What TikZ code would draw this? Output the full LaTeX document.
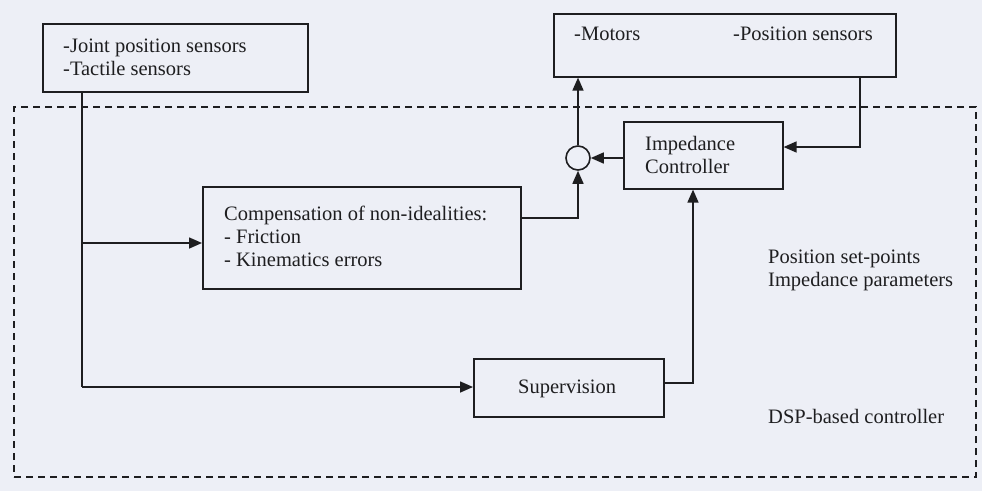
\documentclass[tikz,border=0pt]{standalone}
\usepackage{fontspec}
\setmainfont{Liberation Serif}
\usetikzlibrary{arrows.meta}
\definecolor{paper}{RGB}{237,239,246}
\definecolor{ink}{RGB}{30,30,32}
\begin{document}
\begin{tikzpicture}[x=1pt,y=-1pt,
  box/.style={draw=ink,line width=1.6pt,inner sep=0pt,anchor=north west},
  lbl/.style={anchor=base west,inner sep=0pt,text=ink,font=\fontsize{20.5}{23}\selectfont},
  conn/.style={draw=ink,line width=1.6pt},
  arr/.style={conn,-{Triangle[length=13pt,width=11pt]}},
  frame/.style={draw=ink,line width=2.2pt,dash pattern=on 7pt off 5pt}]
\fill[paper] (0,0) rectangle (982,491);
\useasboundingbox (0,0) rectangle (982,491);
% boxes
\node[box,minimum width=265pt,minimum height=68pt] (sens) at (42,23) {};
\node[box,minimum width=342pt,minimum height=63pt] (mot) at (553,13) {};
\node[box,minimum width=159pt,minimum height=67pt] (imp) at (623,121) {};
\node[box,minimum width=318pt,minimum height=102pt] (comp) at (202,186) {};
\node[box,minimum width=190pt,minimum height=58pt] (sup) at (473,358) {};
\node[draw=ink,line width=1.6pt,circle,minimum size=24pt,inner sep=0pt] (sum) at (578,158) {};
% dashed frame
\node[frame,inner sep=0pt,anchor=north west,minimum width=962pt,minimum height=370pt] (dsp) at (13,106) {};
% texts
\node[lbl] (t1) at (63,52) {-Joint position sensors};
\node[lbl] (t2) at (63,75) {-Tactile sensors};
\node[lbl] (t3) at (574,40) {-Motors};
\node[lbl] (t4) at (733,40) {-Position sensors};
\node[lbl] (t5) at (645,150) {Impedance};
\node[lbl] (t6) at (645,173) {Controller};
\node[lbl] (t7) at (224,220) {Compensation of non-idealities:};
\node[lbl] (t8) at (224,243) {- Friction};
\node[lbl] (t9) at (224,266) {- Kinematics errors};
\node[lbl] (t10) at (518,393) {Supervision};
\node[lbl] (t11) at (768,263) {Position set-points};
\node[lbl] (t12) at (768,286) {Impedance parameters};
\node[lbl] (t13) at (768,423) {DSP-based controller};
% connectors
\coordinate (busTop) at (82,91);
\coordinate (busCorner) at (82,387);
\coordinate (busComp) at (82,243);
\draw[conn] (sens.south -| busTop) -- (busCorner);
\draw[arr] (busCorner) -- (sup.west |- busCorner);
\draw[arr] (busComp) -- (comp.west |- busComp);
\coordinate (compOut) at (520,218);
\draw[arr] (compOut) -| (sum.south);
\draw[arr] (sum.north) -- (sum.north |- mot.south);
\draw[arr] (imp.west |- sum) -- (sum.east);
\coordinate (fbTop) at (860,76);
\coordinate (fbCorner) at (860,147);
\draw[arr] (fbTop) -- (fbCorner) -- (imp.east |- fbCorner);
\coordinate (supOut) at (663,383);
\coordinate (supUp) at (693,383);
\draw[arr] (supOut) -- (supUp) -- (supUp |- imp.south);
\end{tikzpicture}
\end{document}
